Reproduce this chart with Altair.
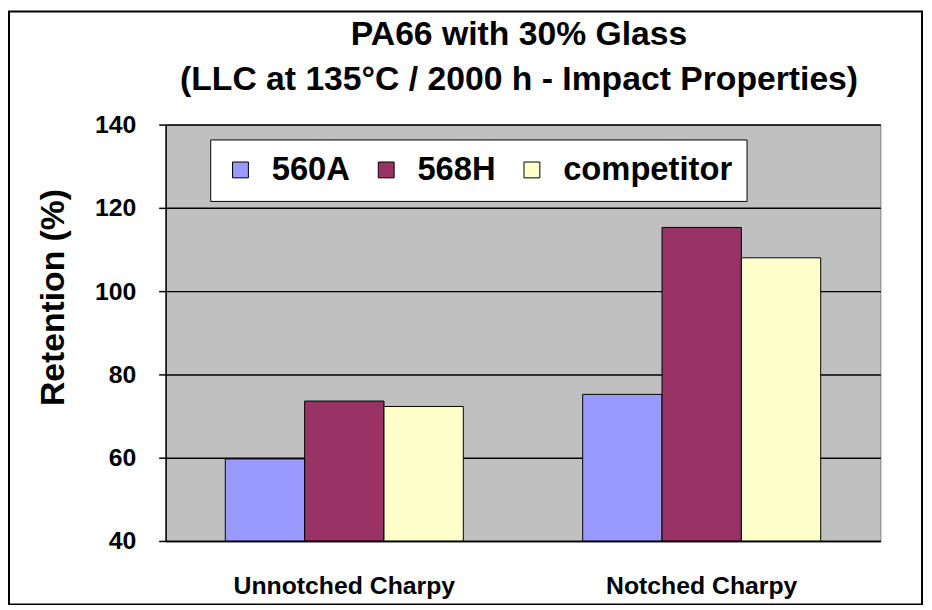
import altair as alt
import pandas as pd

categories = ["Unnotched Charpy", "Notched Charpy"]
series = ["560A", "568H", "competitor"]
values_560A = [59.7, 75.2]
values_568H = [73.6, 115.3]
values_comp = [72.3, 108.0]
colors = ["#9999FF", "#993366", "#FFFFCC"]

rows = []
for i, c in enumerate(categories):
    for s, vals in zip(series, [values_560A, values_568H, values_comp]):
        rows.append({"category": c, "series": s, "value": vals[i]})
df = pd.DataFrame(rows)

FONT = "Liberation Sans"

bars = alt.Chart(df).mark_bar(stroke="black", strokeWidth=1, clip=True).encode(
    x=alt.X("category:N", sort=categories, title=None,
            scale=alt.Scale(paddingInner=0.334, paddingOuter=0.167),
            axis=alt.Axis(labelAngle=0, labelFontSize=25, labelFont=FONT, labelFontWeight="bold",
                          labelColor="black", ticks=False, labelPadding=33, labelLimit=400,
                          domainColor="black", domainWidth=1.5)),
    xOffset=alt.XOffset("series:N", sort=series, scale=alt.Scale(paddingInner=0, paddingOuter=0)),
    y=alt.Y("value:Q", scale=alt.Scale(domain=[40, 140], zero=False, nice=False),
            title="Retention (%)",
            axis=alt.Axis(values=[40, 60, 80, 100, 120, 140], labelFontSize=25, labelFont=FONT,
                          labelFontWeight="bold", labelColor="black", tickColor="black",
                          tickSize=7, tickWidth=1.5, labelPadding=23,
                          domainColor="black", domainWidth=1.5,
                          gridColor="black", gridWidth=1.5,
                          titleFont=FONT, titleFontSize=34, titleFontWeight="bold",
                          titleColor="black", titleX=-113, titleY=174, titleAngle=270,
                          titleAlign="center", titleBaseline="middle")),
    y2=alt.datum(40),
    color=alt.Color("series:N", sort=series, title=None,
                    scale=alt.Scale(domain=series, range=colors),
                    legend=alt.Legend(orient="none", legendX=45, legendY=15, direction="horizontal",
                                      columns=3, fillColor="white", strokeColor="black",
                                      padding=14, columnPadding=20, symbolType="square",
                                      symbolSize=256, symbolStrokeColor="black",
                                      symbolStrokeWidth=1, symbolOpacity=1,
                                      labelFont=FONT, labelFontSize=33, labelFontWeight="bold",
                                      labelColor="black", labelOffset=15, labelLimit=400)),
)

border = alt.Chart(alt.Data(values=[{"a": 1}])).mark_rect(
    filled=False, stroke="black", strokeWidth=2, clip=False
).encode(
    x=alt.value(-158), x2=alt.value(763), y=alt.value(-114), y2=alt.value(484)
)

chart = alt.layer(bars, border).properties(
    width=721, height=420,
    autosize=alt.AutoSizeParams(type="none"),
    padding={"left": 159, "top": 115, "right": 44, "bottom": 62},
    background="white",
    title=alt.TitleParams(
        text=["PA66 with 30% Glass", "(LLC at 135°C / 2000 h - Impact Properties)"],
        font=FONT, fontSize=34, fontWeight="bold", color="black",
        anchor="middle", frame="group", baseline="bottom", lineHeight=45, offset=-121, dx=-4,
    ),
).configure_view(fill="#C0C0C0", stroke="#808080", strokeWidth=1)

chart.save("out.html", embed_options={"renderer": "svg", "actions": False})
